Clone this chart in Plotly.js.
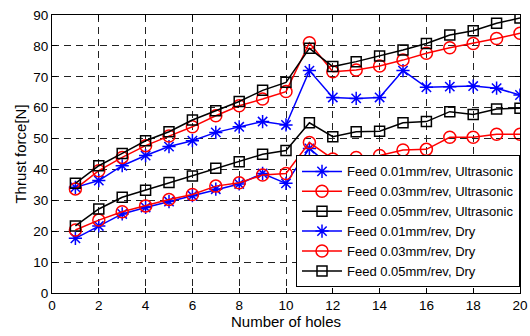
<!DOCTYPE html>
<html><head><meta charset="utf-8">
<script src="https://cdn.plot.ly/plotly-3.0.1.min.js"></script>
<style>body{margin:0;background:#fff}#g{width:530px;height:336px}</style>
</head><body><div id="g"></div>
<script>
const holes = [1,2,3,4,5,6,7,8,9,10,11,12,13,14,15,16,17,18,19,20];
const ultra001 = [34.2,36.4,41.2,44.5,47.4,49.3,52.0,53.8,55.5,54.4,72.0,63.3,63.0,63.3,72.0,66.6,66.8,67.0,66.3,64.1];
const ultra003 = [33.7,39.6,43.9,47.7,50.8,53.8,57.4,60.6,62.8,65.2,81.0,71.6,72.2,73.5,75.4,77.6,79.4,80.8,82.4,84.1];
const ultra005 = [35.5,41.2,45.2,49.3,52.2,56.0,59.0,62.0,65.6,68.2,79.2,73.3,74.9,76.7,78.7,80.8,83.5,84.9,87.3,89.0];
const dry001 = [17.7,21.7,25.6,27.7,29.6,31.5,33.6,35.3,38.7,35.5,46.8,40.4,39.8,39.1,39.6,39.6,41.2,41.4,40.7,40.1];
const dry003 = [20.4,23.6,26.3,28.2,30.3,31.9,34.6,35.7,38.2,38.7,48.7,43.4,43.9,44.5,46.3,46.5,50.4,50.4,51.4,51.4];
const dry005 = [21.7,27.2,31.0,33.3,35.8,37.9,40.4,42.5,44.9,46.1,55.1,50.6,52.2,52.4,55.1,55.5,58.7,57.8,59.6,59.8];
const names = ['Feed 0.01mm/rev, Ultrasonic','Feed 0.03mm/rev, Ultrasonic','Feed 0.05mm/rev, Ultrasonic',
               'Feed 0.01mm/rev, Dry','Feed 0.03mm/rev, Dry','Feed 0.05mm/rev, Dry'];
const series = [ultra001, ultra003, ultra005, dry001, dry003, dry005];
const colors = ['#0000ff','#ff0000','#000000','#0000ff','#ff0000','#000000'];
const symbols = ['asterisk-open','circle-open','square-open','asterisk-open','circle-open','square-open'];
const sizes = [11,12,10,11,12,10];
const traces = series.map((s,i)=>({
  x: holes, y: s, name: names[i], type:'scatter', mode:'lines+markers',
  line:{color:colors[i], width:1.5},
  marker:{symbol:symbols[i], size:sizes[i], color:colors[i], line:{color:colors[i], width:1.5}}
}));
const font = {family:'Liberation Sans, Arial, sans-serif', color:'#000', size:13};
const layout = {
  width:530, height:336,
  margin:{l:52, r:10, t:15, b:43},
  paper_bgcolor:'#fff', plot_bgcolor:'#fff',
  font: font,
  showlegend:true,
  legend:{x:1, xanchor:'right', y:0.02, yanchor:'bottom', bgcolor:'#fff', bordercolor:'#000', borderwidth:1,
          font:{family:font.family, size:13, color:'#000'}, tracegroupgap:0, itemwidth:40},
  xaxis:{range:[0,20], dtick:2, tick0:0, showline:true, mirror:'ticks', linecolor:'#000', linewidth:1,
         ticks:'inside', ticklen:5, tickcolor:'#000', showgrid:true, gridcolor:'#222', griddash:'7px,5px', gridwidth:1,
         zeroline:false, title:{text:'Number of holes', font:{size:15}, standoff:3}, tickfont:{size:13.5}},
  yaxis:{range:[0,90], dtick:10, tick0:0, showline:true, mirror:'ticks', linecolor:'#000', linewidth:1,
         ticks:'inside', ticklen:5, tickcolor:'#000', showgrid:true, gridcolor:'#222', griddash:'7px,5px', gridwidth:1,
         zeroline:false, title:{text:'Thrust force[N]', font:{size:15}, standoff:3}, tickfont:{size:13.5}}
};
Plotly.newPlot('g', traces, layout, {staticPlot:true, displayModeBar:false});
</script></body></html>
